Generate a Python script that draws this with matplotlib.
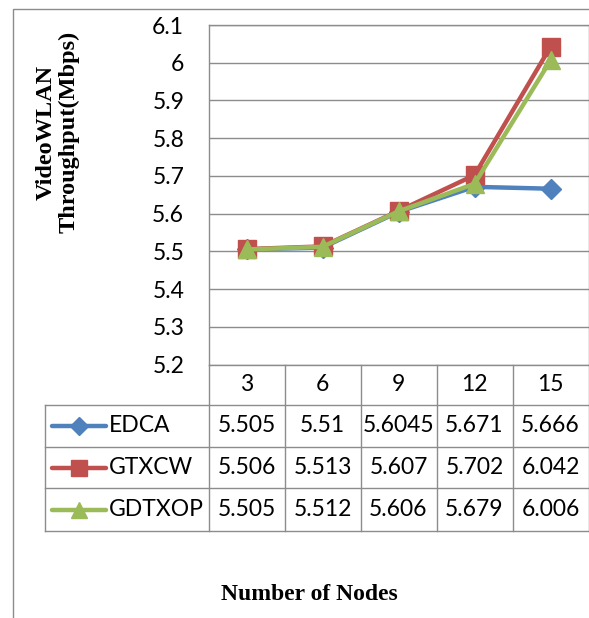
import numpy as np
import matplotlib.pyplot as plt

# data
nodes = ['3', '6', '9', '12', '15']
series = ['EDCA', 'GTXCW', 'GDTXOP']
edca = [5.505, 5.51, 5.6045, 5.671, 5.666]
gtxcw = [5.506, 5.513, 5.607, 5.702, 6.042]
gdtxop = [5.505, 5.512, 5.606, 5.679, 6.006]
values = [edca, gtxcw, gdtxop]

colors = ['#4F81BD', '#C0504D', '#9BBB59']
markers = ['D', 's', '^']
msizes = [10, 13, 13]
grid_c = '#8c8c8c'
num_font = 'Lato'

W, H = 589, 618
fig = plt.figure(figsize=(W / 100, H / 100), dpi=100)

# plot area (pixel layout of the original)
x0, cw = 208.5, 76.0
ytop, ybot = 25.0, 364.5
ax = fig.add_axes([x0 / W, 1 - ybot / H, 5 * cw / W, (ybot - ytop) / H])

xs = np.arange(len(nodes)) + 0.5
for vals, c, m, ms in zip(values, colors, markers, msizes):
    ax.plot(xs, vals, color=c, lw=3.2, marker=m, markersize=ms,
            solid_capstyle='round', solid_joinstyle='round', clip_on=False)

ax.set_xlim(0, len(nodes))
ax.set_ylim(5.2, 6.1)
ax.set_yticks(np.round(np.arange(5.2, 6.11, 0.1), 1))
ax.set_yticklabels(['%g' % t for t in np.round(np.arange(5.2, 6.11, 0.1), 1)],
                   fontsize=16.5, family=num_font)
ax.set_xticks([])
ax.tick_params(axis='y', length=0, pad=17.5)
ax.yaxis.grid(True, color=grid_c, lw=1)
ax.set_axisbelow(True)
for s in ax.spines.values():
    s.set_color(grid_c)
    s.set_linewidth(1)

# overlay for table, frame and titles (pixel coordinates)
tax = fig.add_axes([0, 0, 1, 1])
tax.set_xlim(0, W)
tax.set_ylim(H, 0)
tax.axis('off')

# outer chart frame
tax.plot([13, 13, W + 5], [H + 5, 9, 9], color=grid_c, lw=1)

# data table
leg_left = 45
rows = [364.5, 405, 447, 488, 531]
edges = [x0 + i * cw for i in range(len(nodes) + 1)]
for y in rows[1:]:
    tax.plot([leg_left, edges[-1]], [y, y], color=grid_c, lw=1)
tax.plot([leg_left, leg_left], [rows[1], rows[-1]], color=grid_c, lw=1)
for x in edges:
    tax.plot([x, x], [rows[0], rows[-1]], color=grid_c, lw=1)

hy = (rows[0] + rows[1]) / 2
for i, n in enumerate(nodes):
    tax.text((edges[i] + edges[i + 1]) / 2, hy, n, ha='center', va='center',
             fontsize=16.5, family=num_font)

for r, (name, vals, c, m, ms) in enumerate(zip(series, values, colors, markers, msizes)):
    cy = (rows[r + 1] + rows[r + 2]) / 2
    tax.plot([52, 106], [cy, cy], color=c, lw=3.2, solid_capstyle='round')
    tax.plot([79], [cy], color=c, marker=m, markersize=ms - 1)
    tax.text(109, cy, name, ha='left', va='center', fontsize=16.5, family=num_font)
    for i, v in enumerate(vals):
        tax.text((edges[i] + edges[i + 1]) / 2, cy, '%g' % v, ha='center',
                 va='center', fontsize=16.5, family=num_font)

# axis titles
tax.text(58, 132, 'VideoWLAN\nThroughput(Mbps)', rotation=90, ha='center', va='center',
         fontsize=17.5, fontweight='bold', family='Liberation Serif', linespacing=1.1)
tax.text(309, 595, 'Number of Nodes', ha='center', va='center',
         fontsize=17, fontweight='bold', family='Liberation Serif')

fig.savefig('out.png', dpi=100)
